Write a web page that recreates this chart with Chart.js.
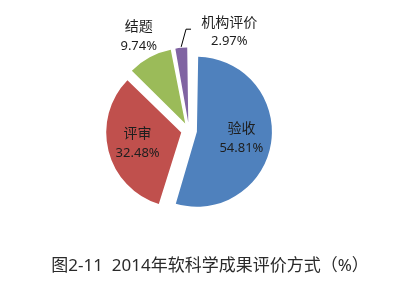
<!DOCTYPE html>
<html>
<head>
<meta charset="utf-8">
<script src="https://cdn.jsdelivr.net/npm/chart.js@4/dist/chart.umd.min.js"></script>
<style>
html,body{margin:0;padding:0;background:#fff;}
canvas{display:block;}
</style>
</head>
<body>
<canvas id="c" width="400" height="302"></canvas>
<script>
// ---- data ----
const categories = ['验收', '评审', '结题', '机构评价'];
const percents = [54.81, 32.48, 9.74, 2.97];
const percentLabels = ['54.81%', '32.48%', '9.74%', '2.97%'];
const captionText = '图2-11  2014年软科学成果评价方式（%）';

// ---- styles / layout ----
const sliceColors = ['#4F81BD', '#C0504D', '#9BBB59', '#8064A2'];
const RADIUS = 75;
const OFFSET = 32; // Chart.js translates by offset/4
const labelPlacement = [
  {rf: 0.60, dx: 0, dy: 0},
  {rf: 0.60, dx: 0, dy: 0},
  {rf: 1.31, dx: 0, dy: 0},
  {rf: 1.21, dx: 49.5, dy: 0, leader: true}
];
const FONT_STACK = '"Noto Sans", "Noto Sans CJK SC", sans-serif';
const CAPTION_X = 210;
const CAPTION_Y = 266;

// keep all exploded slices the same radius (Chart.js enlarges some slices with offset)
const equalRadiusPlugin = {
  id: 'equalRadius',
  beforeDatasetsDraw(chart) {
    const meta = chart.getDatasetMeta(0);
    meta.data.forEach(arc => {
      const fix = 1 - Math.sin(Math.min(Math.PI, arc.circumference || 0));
      arc.outerRadius = RADIUS - (OFFSET / 4) * fix;
    });
  }
};

const sliceLabelPlugin = {
  id: 'sliceLabels',
  afterDatasetsDraw(chart) {
    const ctx = chart.ctx;
    const meta = chart.getDatasetMeta(0);
    meta.data.forEach((arc, i) => {
      const mid = (arc.startAngle + arc.endAngle) / 2;
      const off = OFFSET / 4;
      const cx = arc.x + Math.cos(mid) * off;
      const cy = arc.y + Math.sin(mid) * off;
      const p = labelPlacement[i];
      const lx = cx + Math.cos(mid) * RADIUS * p.rf + p.dx;
      const ly = cy + Math.sin(mid) * RADIUS * p.rf + p.dy;
      ctx.save();
      ctx.fillStyle = '#1e1e1e';
      ctx.textAlign = 'center';
      ctx.textBaseline = 'middle';
      ctx.font = '14px ' + FONT_STACK;
      ctx.fillText(categories[i], lx, ly - 9.5);
      ctx.font = '13px ' + FONT_STACK;
      ctx.fillText(percentLabels[i], lx, ly + 9.5);
      if (p.leader) {
        const sx = cx + Math.cos(mid) * (RADIUS + 1);
        const sy = cy + Math.sin(mid) * (RADIUS + 1);
        const ex = cx + Math.cos(mid) * RADIUS * 1.25 + 6.5;
        const ey = cy + Math.sin(mid) * RADIUS * 1.25;
        ctx.strokeStyle = '#000';
        ctx.lineWidth = 1;
        ctx.beginPath();
        ctx.moveTo(sx, sy);
        ctx.lineTo(ex, ey);
        ctx.lineTo(ex + 5, ey);
        ctx.stroke();
      }
      ctx.restore();
    });
  }
};

const captionPlugin = {
  id: 'caption',
  afterDraw(chart) {
    const ctx = chart.ctx;
    ctx.save();
    ctx.fillStyle = '#2a2a2a';
    ctx.textAlign = 'center';
    ctx.textBaseline = 'middle';
    ctx.font = '17px ' + FONT_STACK;
    ctx.fillText(captionText, CAPTION_X, CAPTION_Y);
    ctx.restore();
  }
};

new Chart(document.getElementById('c'), {
  type: 'pie',
  data: {
    labels: categories,
    datasets: [{
      data: percents,
      backgroundColor: sliceColors,
      borderWidth: 0,
      offset: OFFSET,
      hoverOffset: 0
    }]
  },
  options: {
    responsive: false,
    animation: false,
    radius: RADIUS,
    layout: {padding: {top: 6, bottom: 47, left: 0, right: 22}},
    plugins: {
      legend: {display: false},
      tooltip: {enabled: false},
      title: {display: false}
    }
  },
  plugins: [equalRadiusPlugin, sliceLabelPlugin, captionPlugin]
});
</script>
</body>
</html>
